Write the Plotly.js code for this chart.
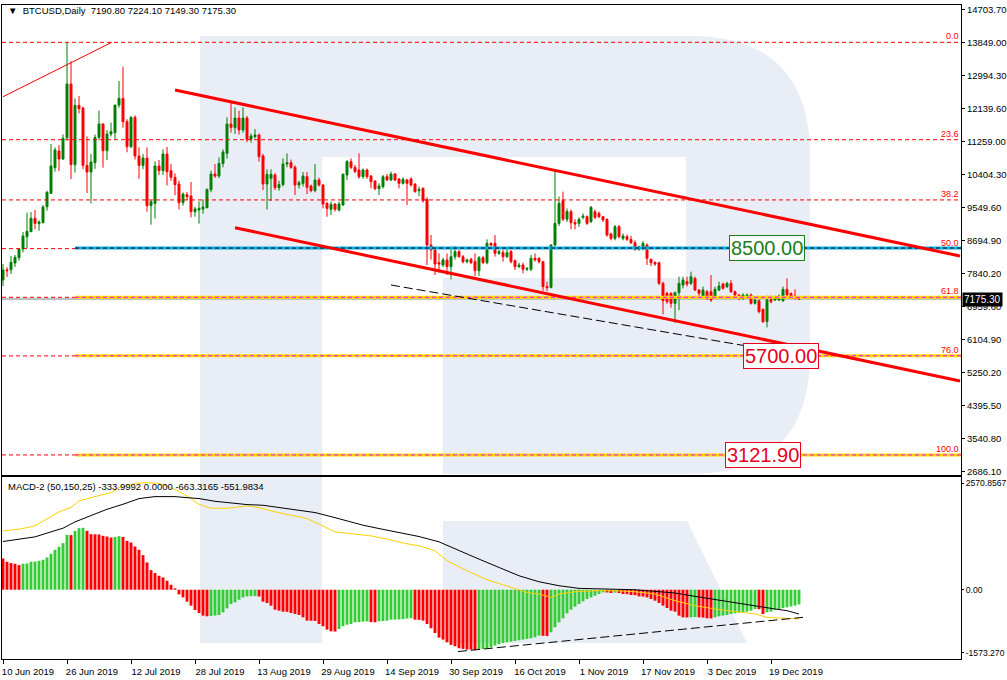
<!DOCTYPE html>
<html><head><meta charset="utf-8">
<script src="https://cdn.plot.ly/plotly-3.0.1.min.js"></script>
<style>html,body{margin:0;padding:0;background:#fff;}#chart{width:1007px;height:680px;}</style>
</head><body><div id="chart"></div>
<script>
// ---------- data (daily BTCUSD, starting 10 Jun 2019) ----------
const startDay = [2019, 5, 10];
const openP = [7669,7935,7937,8111,8249,8475,8795,8925,9273,9133,9159,9575,9922,10590,11023,10815,11370,12765,10668,12210,
12141,10650,10477,10720,11378,11725,11032,11465,11500,12219,12392,11786,11136,11898,10893,10650,10840,9601,9662,10633,
10512,10945,10512,10338,10165,9680,9888,9853,9445,9489,9515,9550,10017,10425,10373,10700,10962,11725,11630,11881,
11570,11881,11326,11396,11439,10893,10165,10312,10399,10070,10150,10685,10720,10600,10139,10182,10356,10113,9992,10269,
10139,9662,9506,9645,9489,9619,10399,10746,10598,10529,10356,10529,10373,10243,10044,10096,10356,10269,10425,10295,
10182,10269,10295,10165,9992,10052,9766,8579,8450,8120,8059,8190,8016,8276,8406,8276,8146,8207,8146,7912,
8250,8120,8622,8622,8362,8380,8276,8406,8172,8016,8059,7947,7947,8233,8233,8146,7500,7478,8579,9142,
9732,9250,9445,9160,9142,9298,9316,9186,9445,9402,9316,9246,8865,8752,9056,8752,8796,8726,8640,8466,
8500,8579,8207,8120,8120,7582,7322,7322,7063,7340,7539,7626,7582,7713,7409,7236,7365,7365,7236,7409,
7565,7496,7582,7365,7279,7192,7236,7279,7063,7132,6906,6586,7167,7150,7150,7132,7426,7322,7253,7190.8];
const highP = [8085,8000,8293,8319,8483,8917,9419,9437,9489,9221,9619,9990,11205,11118,11179,11456,13849,13354,12392,12453,
12176,11400,10945,11450,12072,11740,11570,11760,12219,12843,13216,11850,11933,11950,11120,10945,11120,9750,10754,10790,
11066,11127,10685,10442,10250,9948,9957,10217,9576,9714,9766,10043,10512,10685,10860,11066,11900,12305,12158,12072,
12158,11933,11480,11595,11480,10950,10546,10546,10450,10250,10832,10962,10800,10650,10250,10477,10477,10150,10685,10330,
10160,9700,9706,9662,9706,10442,10789,10832,10660,10962,10570,10570,10400,10260,10182,10400,10425,10486,10450,10320,
10338,10300,10338,10180,10096,10080,9818,8839,8500,8360,8250,8360,8535,8553,8450,8319,8230,8250,8362,8293,
8300,8726,8650,8839,8450,8450,8490,8450,8200,8120,8120,8000,8319,8362,8260,8160,7626,8600,10546,9836,
9966,9530,9500,9250,9300,9400,9350,9593,9500,9450,9330,9272,8900,9099,9099,8880,8850,8820,8700,8560,
8680,8622,8232,8160,8146,7626,7365,7350,7365,7756,7756,7756,7886,7756,7435,7496,7409,7799,7496,7626,
7600,7626,7669,7392,7300,7322,7322,7322,7180,7160,6932,7262,7262,7262,7290,7496,7712,7340,7426,7224.1];
const lowP = [7513,7750,7825,8007,8171,8389,8501,8917,8987,8951,9143,9471,9905,10486,10503,10789,11300,10295,10460,12000,
10550,9931,9662,10560,11300,10590,10789,11400,11326,12150,11630,10990,11100,10800,10300,10550,9446,9108,9264,10400,
10400,10130,10250,9870,9507,9600,9750,9298,9316,9134,9394,9532,9950,10321,10320,10600,10824,11500,11465,11450,
11500,11250,11240,11350,10745,10009,9506,9723,10009,9990,10100,10600,10560,9879,10050,10100,9905,9950,9950,10100,
9532,9315,9359,9450,9450,9600,10269,10550,10450,10300,10300,10300,10052,10000,9879,10050,10250,10240,10240,10052,
10150,9619,10100,9940,9850,9680,8059,8200,7800,7860,8000,7800,7687,8200,8250,8100,8100,8080,7773,7773,
8080,8080,8540,8276,8320,8146,8240,8100,7929,7980,7843,7900,7900,8150,8100,7392,7380,7450,8536,9073,
9200,9180,8986,8986,9050,9250,9100,9150,9250,9280,9180,8796,8700,8700,8750,8700,8680,8600,8432,8430,
8440,8059,8033,8040,7539,6776,7050,6950,6560,6889,7450,7500,7539,7380,7192,7200,7150,7100,7200,7380,
7420,7460,7330,7250,7150,7150,7200,7030,7030,6802,6550,6438,7060,7120,7120,7100,7250,7220,7160,7149.3];
const closeP = [7929,7910,8129,8259,8475,8813,8935,9273,9143,9177,9567,9948,10633,11049,10815,11352,12765,10668,12210,12124,
10650,10477,10737,11378,11725,11032,11465,11526,12219,12392,11786,11136,11898,10893,10650,10840,9601,9705,10633,10512,
10945,10485,10338,10147,9680,9905,9835,9445,9515,9532,9567,10026,10425,10373,10700,10997,11725,11638,11881,11570,
11881,11326,11413,11439,10876,10165,10416,10416,10070,10150,10685,10720,10600,10139,10200,10373,10078,9992,10269,10139,
9645,9532,9636,9506,9645,10416,10746,10598,10486,10356,10529,10356,10226,10044,10113,10356,10269,10425,10269,10182,
10286,10182,10139,9966,10026,9732,8579,8450,8085,8085,8190,8016,8276,8406,8276,8146,8190,8120,7912,8250,
8120,8622,8579,8362,8406,8276,8380,8146,8016,8059,7947,7973,8233,8190,8146,7496,7470,8579,9142,9662,
9250,9450,9160,9125,9246,9333,9142,9558,9298,9316,9229,8839,8752,9056,8796,8813,8726,8640,8466,8536,
8622,8232,8120,8085,7582,7132,7106,7063,7340,7582,7669,7565,7756,7409,7322,7409,7219,7150,7426,7513,
7452,7582,7365,7279,7192,7279,7279,7063,7150,6846,6586,7150,7106,7236,7253,7426,7279,7253,7192,7175.3];

// MACD-2 (50,150,25) histogram
const macdHist = [710,634,604,589,559,589,595,634,640,657,680,732,815,906,974,1057,1246,1240,1336,1397,
1405,1336,1261,1258,1255,1223,1208,1185,1200,1216,1200,1110,1072,982,906,785,619,445,378,317,
279,204,113,30,-106,-174,-272,-362,-461,-528,-589,-604,-595,-585,-574,-513,-423,-325,-287,-227,
-174,-151,-148,-145,-155,-272,-302,-362,-453,-476,-498,-502,-528,-551,-574,-627,-702,-705,-708,-778,
-830,-906,-944,-950,-891,-830,-793,-778,-740,-735,-725,-720,-735,-740,-717,-712,-702,-680,-677,-674,
-668,-655,-648,-680,-685,-702,-778,-876,-982,-1087,-1133,-1193,-1253,-1284,-1329,-1344,-1359,-1362,-1374,-1359,
-1344,-1329,-1306,-1268,-1238,-1208,-1193,-1178,-1163,-1148,-1133,-1117,-1102,-1080,-1040,-1046,-1052,-966,-853,-740,
-649,-536,-453,-385,-325,-264,-211,-174,-136,-98,-60,-62,-75,-65,-75,-98,-100,-121,-124,-151,
-155,-174,-211,-249,-302,-362,-415,-476,-498,-589,-627,-630,-625,-620,-628,-632,-649,-652,-627,-604,
-589,-574,-551,-536,-521,-513,-498,-476,-438,-442,-551,-513,-498,-453,-438,-415,-400,-378,-362,-334];
// black line (day index / value)
const blackDay = [0,4,8,12,15,18,22,26,30,34,38,43,46,49,53,57,61,65,69,73,78,82,86,90,94,99,104,109,114,119,124,129,134,139,144,149,154,158,163,168,173,178,183,188,193,196,199];
const blackVal = [1095,1148,1200,1314,1397,1540,1676,1827,1940,2069,2114,2114,2091,2069,2008,1963,1933,1918,1865,1804,1752,1661,1555,1465,1389,1290,1208,1087,883,695,506,317,181,91,30,15,15,0,-38,-75,-151,-227,-302,-362,-438,-476,-552];
// yellow line (day index / value)
const yellowDay = [0,4,8,11,14,17,19,23,27,29,33,36,39,43,46,49,52,56,61,64,68,72,76,79,83,88,92,96,101,104,108,111,116,121,126,131,134,137,139,143,148,153,158,163,168,173,178,183,188,191,196,199];
const yellowVal = [1336,1374,1450,1600,1767,1865,2016,2114,2205,2318,2416,2431,2416,2280,2129,1940,1850,1850,1903,1865,1767,1691,1616,1487,1314,1261,1223,1148,1042,997,883,657,430,227,91,-60,-98,-174,-98,-45,-23,-23,-45,-98,-249,-362,-438,-498,-551,-627,-649,-663];

// Fibonacci levels
const fibHigh = 13849, fibLow = 3121.9;
const fibRatios = [0, 0.236, 0.382, 0.5, 0.618, 0.76, 1.0];
const fibLabels = ['0.0','23.6','38.2','50.0','61.8','76.0','100.0'];
// horizontal objects
const hLevels = [8500, 7219.7, 5700, 3121.9];
const boxLabelVals = [8500, 5700, 3121.9];
const boxLabelText = ['8500.00','5700.00','3121.90'];
const lastPrice = 7175.30;

// trend lines [day, price]
const thinLine = [[0, 12435], [27.2, 13849]];
const upperChannel = [[43, 12609], [239.25, 8293]];
const lowerChannel = [[58, 9029], [239.25, 5043]];
const blackDashed = [[97, 7539], [185.5, 5961]];
const macdTrend = [[113.75, -1404], [200, -627]];

// axis ticks
const priceTickVals = [14707.7,13849,12990.3,12131.6,11273,10414.3,9555.6,8696.9,7838.2,6979.6,6120.9,5262.2,4403.5,3544.8,2686.1];
const priceTickText = ['14703.70','13849.00','12994.30','12139.60','11259.00','10404.30','9549.60','8694.90','7840.20','6959.60','6104.90','5250.20','4395.50','3540.80','2686.10'];
const macdTickVals = [2418, 0, -1431];
const macdTickText = ['2570.8567','0.00','-1573.270'];
const xTickDay = [0,16,32,48,64,80,96,112,128,144,160,176,192];
const xTickText = ['10 Jun 2019','26 Jun 2019','12 Jul 2019','28 Jul 2019','13 Aug 2019','29 Aug 2019','14 Sep 2019','30 Sep 2019','16 Oct 2019','1 Nov 2019','17 Nov 2019','3 Dec 2019','19 Dec 2019'];

// ---------- helpers ----------
const DAY = 86400000;
const T0 = Date.UTC(startDay[0], startDay[1], startDay[2]);
function d(i){ return new Date(T0 + i*DAY).toISOString().replace('T',' ').slice(0,19); }
const PL = 2, PW = 959, PT = 5, PH = 654;
const px = v => (v - PL) / PW;
const py = v => (PT + PH - v) / PH;

const xs = openP.map((_, i) => d(i));
const FONT = 'Liberation Sans, Arial, sans-serif';
const GREEN = '#008000', RED = '#ff0000', LIME = '#32cd32';

const histColors = macdHist.map((v, i) => (i > 0 && v > macdHist[i-1]) ? LIME : RED);

const traces = [
  {type: 'candlestick', x: xs, open: openP, high: highP, low: lowP, close: closeP,
   xaxis: 'x', yaxis: 'y', whiskerwidth: 0, hoverinfo: 'skip', showlegend: false,
   increasing: {line: {color: GREEN, width: 1}, fillcolor: GREEN},
   decreasing: {line: {color: RED, width: 1}, fillcolor: RED}},
  {type: 'bar', x: xs, y: macdHist, xaxis: 'x2', yaxis: 'y2', width: 0.72*DAY,
   marker: {color: histColors, line: {width: 0}}, hoverinfo: 'skip', showlegend: false},
  {type: 'scatter', mode: 'lines', x: yellowDay.map(d), y: yellowVal, xaxis: 'x2', yaxis: 'y2',
   line: {color: '#ffd000', width: 1}, hoverinfo: 'skip', showlegend: false},
  {type: 'scatter', mode: 'lines', x: blackDay.map(d), y: blackVal, xaxis: 'x2', yaxis: 'y2',
   line: {color: '#000000', width: 1}, hoverinfo: 'skip', showlegend: false}
];

const shapes = [];
const WM = '#e9edf5';
// watermark (logo)
shapes.push({type: 'rect', xref: 'paper', yref: 'paper', x0: px(200), x1: px(322), y0: py(643), y1: py(36),
  fillcolor: WM, line: {width: 0}, layer: 'below'});
const P = (x, y) => px(x).toFixed(5) + ',' + py(y).toFixed(5);
shapes.push({type: 'path', xref: 'paper', yref: 'paper', layer: 'below', fillcolor: WM, line: {width: 0},
  path: 'M' + P(322,36) + ' L' + P(690,36) + ' Q' + P(810,36) + ' ' + P(810,156) + ' L' + P(810,354) +
        ' Q' + P(810,474) + ' ' + P(690,474) + ' L' + P(443,474) + ' L' + P(443,278) + ' L' + P(686,278) +
        ' L' + P(686,157) + ' L' + P(322,157) + ' Z'});
shapes.push({type: 'path', xref: 'paper', yref: 'paper', layer: 'below', fillcolor: WM, line: {width: 0},
  path: 'M' + P(443,521) + ' L' + P(687,521) + ' L' + P(747,643) + ' L' + P(443,643) + ' Z'});

// last price line
shapes.push({type: 'line', xref: 'x domain', yref: 'y', x0: 0, x1: 1, y0: lastPrice, y1: lastPrice,
  line: {color: '#c0c0c0', width: 2}, layer: 'below'});
// fib levels
const fibVals = fibRatios.map(r => fibHigh - r * (fibHigh - fibLow));
fibVals.forEach(v => shapes.push({type: 'line', xref: 'x domain', yref: 'y', x0: 0, x1: 1, y0: v, y1: v,
  line: {color: RED, width: 1, dash: '4px,3px'}}));
// horizontal lines
hLevels.forEach((v, k) => {
  const base = k === 0 ? '#00b4f0' : '#ffd700';
  const over = k === 0 ? '#000000' : '#ff00ff';
  shapes.push({type: 'line', xref: 'x', yref: 'y', x0: d(18), x1: d(239.5), y0: v, y1: v, line: {color: base, width: 3}});
  shapes.push({type: 'line', xref: 'x', yref: 'y', x0: d(18), x1: d(239.5), y0: v, y1: v, line: {color: over, width: 1, dash: '4px,3px'}});
});
// trend lines
function tl(seg, w, color, dash, xr, yr){
  shapes.push({type: 'line', xref: xr || 'x', yref: yr || 'y', x0: d(seg[0][0]), y0: seg[0][1], x1: d(seg[1][0]), y1: seg[1][1],
    line: {color: color, width: w, dash: dash || 'solid'}});
}
tl(thinLine, 1, RED);
tl(upperChannel, 3, RED);
tl(lowerChannel, 3, RED);
tl(blackDashed, 1, '#000000', '9px,4px');
tl(macdTrend, 1, '#000000', '9px,4px', 'x2', 'y2');

const annotations = [];
annotations.push({xref: 'paper', yref: 'paper', x: px(6), y: py(10.5), xanchor: 'left', yanchor: 'middle', showarrow: false,
  text: '▼  BTCUSD,Daily  7190.80 7224.10 7149.30 7175.30', font: {family: FONT, size: 9.5, color: '#000'}});
annotations.push({xref: 'paper', yref: 'paper', x: px(6), y: py(486), xanchor: 'left', yanchor: 'middle', showarrow: false,
  text: 'MACD-2 (50,150,25) -333.9992 0.0000 -663.3165 -551.9834', font: {family: FONT, size: 9.5, color: '#000'}});
fibVals.forEach((v, k) => annotations.push({xref: 'paper', yref: 'y', x: px(960), y: v, xanchor: 'right', yanchor: 'bottom',
  showarrow: false, text: fibLabels[k], font: {family: FONT, size: 9, color: RED}, borderpad: 0, yshift: 0}));
const boxX = [190.9, 194.6, 190.1];
boxLabelVals.forEach((v, k) => {
  const c = k === 0 ? '#1b7d1b' : '#e8001c';
  annotations.push({xref: 'x', yref: 'y', x: d(boxX[k]), y: v, xanchor: 'center', yanchor: 'middle', showarrow: false,
    text: boxLabelText[k], font: {family: FONT, size: 20, color: c}, bgcolor: '#ffffff', bordercolor: c, borderwidth: 1, borderpad: 1});
});
annotations.push({xref: 'paper', yref: 'y', x: 1, xshift: 1, y: lastPrice, xanchor: 'left', yanchor: 'middle', showarrow: false,
  text: '7175.30', font: {family: FONT, size: 10, color: '#ffffff'}, bgcolor: '#000000', borderpad: 1});

const axisCommon = {showgrid: false, zeroline: false, showline: true, mirror: true, linecolor: '#000', linewidth: 1};
const layout = {
  width: 1007, height: 680, margin: {l: PL, r: 1007 - PL - PW, t: PT, b: 680 - PT - PH},
  paper_bgcolor: '#ffffff', plot_bgcolor: 'rgba(0,0,0,0)', showlegend: false, dragmode: false,
  font: {family: FONT, size: 9.5, color: '#000'},
  xaxis: Object.assign({}, axisCommon, {type: 'date', anchor: 'y', domain: [0, 1], range: [d(-0.25), d(239.5)],
    showticklabels: false, ticks: '', rangeslider: {visible: false}}),
  yaxis: Object.assign({}, axisCommon, {anchor: 'x', domain: [(659 - 474.5) / PH, 1], side: 'right', range: [2613, 14819],
    tickmode: 'array', tickvals: priceTickVals, ticktext: priceTickText, ticks: 'outside', ticklen: 3, tickcolor: '#000',
    tickfont: {family: FONT, size: 9.5, color: '#000'}}),
  xaxis2: Object.assign({}, axisCommon, {type: 'date', anchor: 'y2', domain: [0, 1], range: [d(-0.25), d(239.5)],
    tickmode: 'array', tickvals: xTickDay.map(d), ticktext: xTickText, ticks: 'outside', ticklen: 4, tickcolor: '#000',
    ticklabelshift: 25, tickfont: {family: FONT, size: 9.5, color: '#000'}}),
  yaxis2: Object.assign({}, axisCommon, {anchor: 'x2', domain: [0, (659 - 476.5) / PH], side: 'right', range: [-1573.27, 2570.8567],
    tickmode: 'array', tickvals: macdTickVals, ticktext: macdTickText, ticks: 'outside', ticklen: 2, tickcolor: '#000',
    tickfont: {family: FONT, size: 8.6, color: '#000'}}),
  shapes: shapes, annotations: annotations
};
Plotly.newPlot('chart', traces, layout, {staticPlot: true, displayModeBar: false});
</script></body></html>
